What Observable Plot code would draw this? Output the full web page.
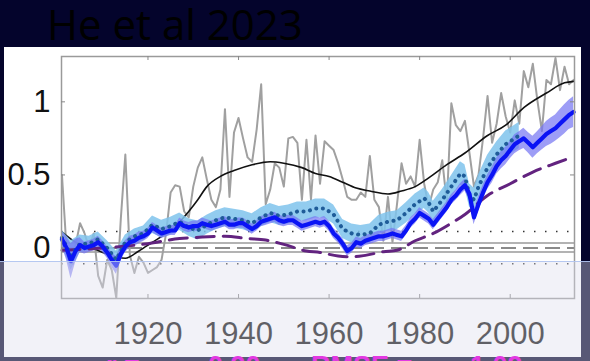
<!DOCTYPE html>
<html><head><meta charset="utf-8">
<script src="https://cdn.jsdelivr.net/npm/d3@7"></script>
<script src="https://cdn.jsdelivr.net/npm/@observablehq/plot@0.6"></script>
<style>
html,body{margin:0;padding:0;width:590px;height:361px;overflow:hidden;background:#04042c;position:relative;}
#panel{position:absolute;left:4px;top:47px;width:577px;height:310px;background:#fff;}
#title{position:absolute;left:47px;top:3px;font-family:"Open Sans",sans-serif;font-size:42px;line-height:41px;color:#000;white-space:nowrap;}
#chart{position:absolute;left:0;top:0;}
#overlay{position:absolute;left:0;top:261px;width:590px;height:100px;background:rgba(222,222,236,0.39);border-top:1px solid rgba(175,195,240,0.9);}
.stat{position:absolute;top:353px;font-family:"Liberation Sans",Arial,sans-serif;font-weight:bold;font-size:27px;line-height:1;color:#e23ae2;white-space:nowrap;}
</style></head>
<body>
<div id="panel"></div>
<div id="title">He et al 2023</div>
<div id="chart"></div>
<div id="overlay"></div>
<div class="stat" style="left:106px">r =</div>
<div class="stat" style="left:208px">0.90</div>
<div class="stat" style="left:311px">RMSE =</div>
<div class="stat" style="left:470px">1.09</div>
<script>
// ---------- data ----------
const xTickValues = [1920, 1940, 1960, 1980, 2000];
const yTickValues = [0, 0.5, 1];

// annual observations (gray), 1901..2014
const grayStart = 1901;
const grayValues = [
  0.50, 0.00, -0.10, 0.02, 0.17, 0.10, 0.00, 0.10, -0.19, -0.27,
  -0.08, -0.15, -0.34, 0.20, 0.64, -0.05, -0.17, -0.06, -0.10, -0.17,
  -0.15, -0.13, -0.08, 0.10, 0.38, 0.43, 0.42, 0.25, 0.21, 0.42,
  0.55, 0.62, 0.47, 0.33, 0.28, 0.40, 0.95, 0.35, 0.79, 0.89,
  0.75, 0.62, 0.59, 0.81, 1.12, 0.30, 0.40, 0.58, 0.55, 0.42,
  0.75, 0.76, 0.72, 0.33, 0.74, 0.33, 0.77, 0.44, 0.73, 0.70,
  0.67, 0.58, 0.47, 0.35, 0.33, 0.33, 0.38, 0.35, 0.63, 0.33,
  0.28, 0.05, 0.35, 0.04, 0.30, 0.58, 0.44, 0.49, 0.42, 0.74,
  0.44, 0.28, 0.40, 0.45, 0.60, 0.31, 0.99, 0.84, 0.80, 0.87,
  0.65, 0.42, 0.50, 0.75, 1.04, 0.72, 0.85, 1.06, 0.90, 0.79,
  1.01, 0.85, 1.21, 1.10, 1.26, 1.01, 0.80, 1.15, 1.12, 1.30,
  1.08, 1.24, 1.12, 1.15
];

// smoothed observations (black)
const blackYears  = [1901,1904,1907,1910,1913,1915,1918,1921,1924,1927,1929,1931,1933,1936,1939,1943,1947,1950,1954,1957,1960,1963,1966,1969,1973,1976,1979,1982,1986,1990,1995,1999,2003,2008,2012,2014];
const blackValues = [0.11,0.04,0.01,-0.03,-0.06,-0.07,-0.02,0.04,0.10,0.18,0.25,0.33,0.42,0.49,0.53,0.57,0.59,0.58,0.55,0.51,0.49,0.45,0.41,0.39,0.37,0.39,0.42,0.48,0.57,0.65,0.77,0.84,0.96,1.06,1.13,1.14];

// model mean (blue) with spread (lavender), 1901..2014
const blueStart = 1901;
const blueValues = [
  0.06, 0.00, -0.09, -0.02, 0.02, 0.00, 0.01, 0.02, 0.04, 0.01,
  -0.03, -0.08, -0.12, -0.04, 0.01, 0.04, 0.05, 0.07, 0.08, 0.10,
  0.14, 0.12, 0.10, 0.11, 0.12, 0.12, 0.17, 0.15, 0.14, 0.15,
  0.15, 0.17, 0.16, 0.15, 0.16, 0.17, 0.18, 0.16, 0.16, 0.17,
  0.17, 0.15, 0.13, 0.15, 0.18, 0.19, 0.20, 0.21, 0.19, 0.18,
  0.19, 0.19, 0.17, 0.15, 0.16, 0.17, 0.18, 0.17, 0.18, 0.15,
  0.10, 0.07, 0.03, -0.02, 0.00, 0.04, 0.03, 0.05, 0.06, 0.07,
  0.08, 0.08, 0.09, 0.10, 0.09, 0.08, 0.12, 0.17, 0.20, 0.24,
  0.22, 0.20, 0.16, 0.20, 0.24, 0.28, 0.33, 0.36, 0.40, 0.43,
  0.37, 0.21, 0.30, 0.38, 0.45, 0.50, 0.56, 0.60, 0.63, 0.67,
  0.71, 0.73, 0.75, 0.72, 0.69, 0.72, 0.75, 0.78, 0.80, 0.82,
  0.85, 0.88, 0.91, 0.93
];
const blueSpread = [
  0.05, 0.08, 0.12, 0.08, 0.05, 0.04, 0.04, 0.04, 0.04, 0.04,
  0.04, 0.05, 0.06, 0.05, 0.04, 0.04, 0.04, 0.04, 0.035, 0.035,
  0.035, 0.035, 0.035, 0.035, 0.035, 0.035, 0.035, 0.035, 0.035, 0.035,
  0.035, 0.035, 0.035, 0.035, 0.035, 0.035, 0.035, 0.035, 0.035, 0.035,
  0.035, 0.035, 0.035, 0.035, 0.035, 0.035, 0.035, 0.035, 0.035, 0.035,
  0.035, 0.035, 0.035, 0.035, 0.035, 0.035, 0.035, 0.035, 0.035, 0.035,
  0.035, 0.035, 0.035, 0.035, 0.035, 0.035, 0.035, 0.035, 0.035, 0.035,
  0.035, 0.035, 0.035, 0.035, 0.035, 0.035, 0.035, 0.035, 0.035, 0.035,
  0.035, 0.035, 0.035, 0.035, 0.035, 0.035, 0.035, 0.035, 0.04, 0.04,
  0.045, 0.05, 0.05, 0.05, 0.05, 0.055, 0.055, 0.06, 0.06, 0.06,
  0.065, 0.065, 0.07, 0.07, 0.075, 0.075, 0.08, 0.085, 0.09, 0.09,
  0.095, 0.10, 0.10, 0.105
];

// second reconstruction (dotted) with spread (light blue)
const dotYears  = [1901,1903,1905,1907,1909,1911,1913,1915,1917,1919,
                   1921,1923,1925,1927,1929,1931,1933,1935,1937,1939,
                   1941,1943,1945,1947,1949,1951,1953,1955,1957,1959,
                   1961,1963,1965,1967,1969,1971,1973,1975,1977,1979,
                   1981,1982,1983,1985,1987,1989,1990,1991,1992,1993,
                   1995,1997,1999,2001,2002];
const dotValues = [0.07,-0.05,0.03,0.03,0.06,0.00,-0.08,0.04,0.08,0.10,
                   0.16,0.13,0.15,0.18,0.14,0.12,0.16,0.19,0.21,0.20,
                   0.19,0.17,0.21,0.24,0.22,0.23,0.25,0.25,0.27,0.27,
                   0.23,0.13,0.10,0.09,0.10,0.16,0.18,0.19,0.24,0.30,
                   0.34,0.31,0.25,0.33,0.42,0.51,0.49,0.36,0.33,0.42,
                   0.55,0.64,0.71,0.75,0.77];
const dotSpread = [0.05,0.10,0.06,0.05,0.05,0.05,0.06,0.05,0.05,0.05,
                   0.06,0.06,0.06,0.06,0.06,0.065,0.065,0.065,0.065,0.065,
                   0.065,0.065,0.065,0.065,0.065,0.065,0.065,0.065,0.065,0.065,
                   0.065,0.065,0.065,0.065,0.065,0.065,0.065,0.065,0.07,0.07,
                   0.07,0.07,0.07,0.07,0.075,0.08,0.08,0.08,0.08,0.08,
                   0.085,0.085,0.09,0.09,0.09];

// forced response (purple dashed)
const purpleYears  = [1901,1910,1920,1927,1932,1937,1942,1946,1950,1955,1958,1962,1965,1968,1972,1975,1979,1983,1987,1990,1995,2000,2005,2010,2014];
const purpleValues = [-0.015,0.0,0.03,0.065,0.075,0.08,0.065,0.055,0.025,-0.02,-0.03,-0.055,-0.06,-0.05,-0.025,-0.015,0.05,0.10,0.17,0.23,0.36,0.44,0.52,0.58,0.625];

// reference levels
const refDotted = [0.113, -0.107];
const refSolid  = [0.035, -0.027];
const refDashed = [0];

// ---------- tables ----------
const gray = grayValues.map((v, i) => ({year: grayStart + i, v}));
const black = blackYears.map((y, i) => ({year: y, v: blackValues[i]}));
const blue = blueValues.map((v, i) => ({year: blueStart + i, v, s: blueSpread[i]}));
const dot = dotYears.map((y, i) => ({year: y, v: dotValues[i], s: dotSpread[i]}));
const purple = purpleYears.map((y, i) => ({year: y, v: purpleValues[i]}));

const chart = Plot.plot({
  width: 590,
  height: 361,
  marginLeft: 61,
  marginRight: 16,
  marginTop: 56,
  marginBottom: 63,
  style: {background: "transparent", color: "#111", fontFamily: "'Liberation Sans', Arial, sans-serif", overflow: "visible"},
  x: {domain: [1900.9, 2014.2], label: null},
  y: {domain: [-0.345, 1.31], label: null},
  marks: [
    Plot.ruleY(refDotted, {y: d => d, stroke: "#333", strokeWidth: 1.4, strokeDasharray: "1.5,9.5"}),
    Plot.ruleY(refSolid, {y: d => d, stroke: "#9a9a9a", strokeWidth: 1.4}),
    Plot.ruleY(refDashed, {y: d => d, stroke: "#8a8a8a", strokeWidth: 2, strokeDasharray: "15,7"}),
    Plot.line(gray, {x: "year", y: "v", stroke: "#a0a0a0", strokeWidth: 2, strokeLinejoin: "round", clip: true}),
    Plot.line(black, {x: "year", y: "v", stroke: "#111", strokeWidth: 1.6, curve: "monotone-x"}),
    Plot.areaY(dot, {x: "year", y1: d => d.v - d.s, y2: d => d.v + d.s, fill: "#7fc3ec", fillOpacity: 0.85}),
    Plot.areaY(blue, {x: "year", y1: d => d.v - d.s, y2: d => d.v + d.s, fill: "#7474f2", fillOpacity: 0.7}),
    Plot.line(purple, {x: "year", y: "v", stroke: "#62237f", strokeWidth: 3, strokeDasharray: "18,9", curve: "monotone-x"}),
    Plot.line(dot, {x: "year", y: "v", stroke: "#1f5c99", strokeWidth: 4, strokeDasharray: "0.1,6.5", strokeLinecap: "round"}),
    Plot.line(blue, {x: "year", y: "v", stroke: "#0b14f5", strokeWidth: 4.2, strokeLinejoin: "round"}),
    Plot.frame({stroke: "#9a9a9a", strokeWidth: 1.5}),
    Plot.tickX(xTickValues, {x: d => d, insetTop: 238, stroke: "#888"}),
    Plot.tickX(xTickValues, {x: d => d, insetBottom: 238, stroke: "#888"}),
    Plot.tickY(yTickValues, {y: d => d, insetRight: 509, stroke: "#888"}),
    Plot.tickY(yTickValues, {y: d => d, insetLeft: 509, stroke: "#888"}),
    Plot.axisX(xTickValues, {tickSize: 0, tickPadding: 23, fontSize: 31, label: null, fill: "#111", tickFormat: d => String(d)}),
    Plot.axisY(yTickValues, {tickSize: 0, tickPadding: 11, fontSize: 31, label: null, fill: "#111", tickFormat: d => String(d)})
  ]
});
document.getElementById("chart").appendChild(chart);
</script>
</body></html>
